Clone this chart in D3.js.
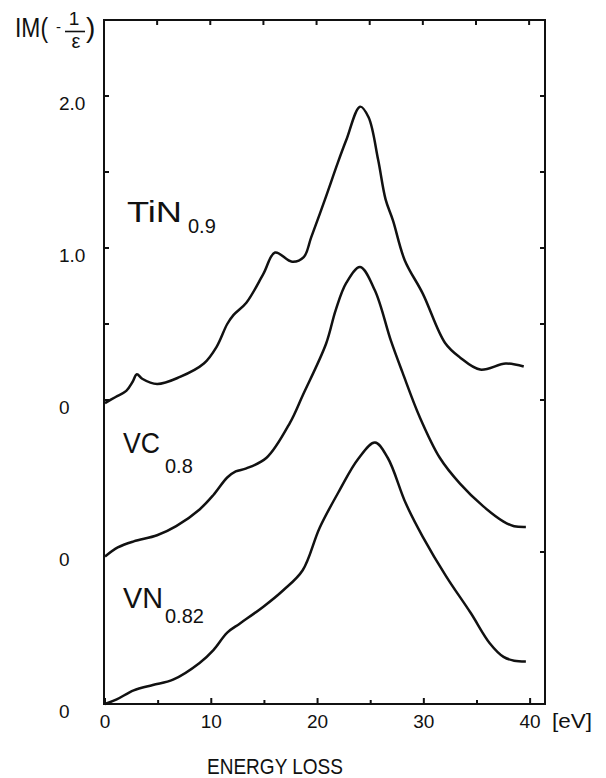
<!DOCTYPE html>
<html>
<head>
<meta charset="utf-8">
<script src="https://cdnjs.cloudflare.com/ajax/libs/d3/7.8.5/d3.min.js"></script>
<style>
  body { margin: 0; background: #fff; }
  text { font-family: "Liberation Sans", Arial, sans-serif; fill: #111; }
</style>
</head>
<body>
<script>
// energy loss (eV) and Im(-1/eps)
var tinE = [0, 1.0, 2.0, 2.6, 3.0, 3.5, 4.9, 7.0, 9.3, 10.5, 11.5, 12.1, 13.3, 14.9, 16.0, 17.6, 18.7, 19.4, 20.7, 21.9, 22.7, 24.0, 24.8, 25.7, 26.4, 27.1, 28.2, 29.9, 32.0, 33.4, 35.3, 37.7, 39.4];
var tinI = [-0.02, 0.02, 0.06, 0.12, 0.17, 0.14, 0.105, 0.15, 0.24, 0.35, 0.5, 0.56, 0.64, 0.83, 0.97, 0.91, 0.94, 1.07, 1.32, 1.56, 1.71, 1.93, 1.86, 1.58, 1.32, 1.18, 0.92, 0.70, 0.375, 0.28, 0.20, 0.24, 0.22];

var vcE = [0, 1.2, 2.7, 4.9, 6.7, 8.9, 10.2, 11.5, 12.3, 13.3, 15.2, 17.4, 18.6, 20.8, 21.7, 22.7, 24.0, 25.4, 26.9, 28.0, 29.6, 31.5, 33.4, 35.6, 37.5, 38.5, 39.6];
var vcI = [-0.03, 0.03, 0.07, 0.11, 0.17, 0.28, 0.375, 0.49, 0.53, 0.55, 0.62, 0.85, 1.03, 1.37, 1.59, 1.77, 1.875, 1.72, 1.39, 1.18, 0.89, 0.62, 0.45, 0.30, 0.20, 0.17, 0.165];

var vnE = [0, 1.1, 2.7, 4.5, 6.4, 8.9, 10.2, 11.5, 12.7, 14.9, 16.8, 18.6, 20.2, 22.1, 23.8, 25.4, 26.6, 28.3, 29.9, 32.1, 34.4, 36.2, 37.5, 38.5, 39.6];
var vnI = [0, 0.03, 0.09, 0.125, 0.16, 0.27, 0.355, 0.47, 0.53, 0.64, 0.75, 0.88, 1.16, 1.41, 1.61, 1.72, 1.62, 1.32, 1.10, 0.84, 0.60, 0.40, 0.31, 0.285, 0.28];

// each curve is shifted up by its own baseline
var names = ["TiN", "VC", "VN"];
var subs = ["0.9", "0.8", "0.82"];
var offsets = [2, 1, 0];

var xTicks = [0, 10, 20, 30, 40];
var yTickVals = [0, 1.0, 2.0];
var yTickLabels = ["0", "1.0", "2.0"];

//Width and height
var w = 606;
var h = 778;

var x = d3.scaleLinear().domain([0, 41.4]).range([105, 545]);
var y = d3.scaleLinear().domain([0, 4.5]).range([704, 20]);

var svg = d3.select("body")
      .append("svg")
      .attr("width", w)
      .attr("height", h);

svg.append("rect").attr("width", w).attr("height", h).attr("fill", "#fff");

//frame
svg.append("rect")
   .attr("x", x(0) - 1)
   .attr("y", y(4.5))
   .attr("width", x(41.4) - x(0) + 1)
   .attr("height", y(0) - y(4.5))
   .attr("fill", "none")
   .attr("stroke", "#111")
   .attr("stroke-width", 2);

//ticks on bottom and top
var minor = d3.range(0, 41, 5);
svg.selectAll(".bt")
   .data(minor)
   .enter()
   .append("line")
   .attr("x1", function(d) { return x(d); })
   .attr("x2", function(d) { return x(d); })
   .attr("y1", y(0))
   .attr("y2", function(d) { return y(0) - (d % 10 == 0 ? 6 : 4); })
   .attr("stroke", "#111")
   .attr("stroke-width", 2);

svg.selectAll(".tt")
   .data(minor.slice(1))
   .enter()
   .append("line")
   .attr("x1", function(d) { return x(d) - 1; })
   .attr("x2", function(d) { return x(d) - 1; })
   .attr("y1", y(4.5))
   .attr("y2", y(4.5) + 5)
   .attr("stroke", "#111")
   .attr("stroke-width", 2);

//ticks on left and right
var leftTicks = [2, 2.5, 3, 3.5, 4];
var rightTicks = [1, 2, 2.5, 3, 3.5, 4];
svg.selectAll(".lt")
   .data(leftTicks)
   .enter()
   .append("line")
   .attr("x1", x(0))
   .attr("x2", x(0) + 4)
   .attr("y1", function(d) { return y(d); })
   .attr("y2", function(d) { return y(d); })
   .attr("stroke", "#111")
   .attr("stroke-width", 2);

svg.selectAll(".rt")
   .data(rightTicks)
   .enter()
   .append("line")
   .attr("x1", x(41.4))
   .attr("x2", x(41.4) - 5)
   .attr("y1", function(d) { return y(d); })
   .attr("y2", function(d) { return y(d); })
   .attr("stroke", "#111")
   .attr("stroke-width", 2);

//x tick labels
svg.selectAll(".xl")
   .data(xTicks)
   .enter()
   .append("text")
   .attr("x", function(d) { return x(d); })
   .attr("y", 728)
   .attr("text-anchor", "middle")
   .style("font-size", "19px")
   .text(function(d) { return d; });

svg.append("text")
   .attr("x", 552).attr("y", 728)
   .attr("textLength", 40).attr("lengthAdjust", "spacingAndGlyphs")
   .style("font-size", "20px")
   .text("[eV]");

svg.append("text")
   .attr("x", 207).attr("y", 774)
   .attr("textLength", 136).attr("lengthAdjust", "spacingAndGlyphs")
   .style("font-size", "22px")
   .text("ENERGY LOSS");

//y tick labels: the TiN scale plus a zero for each shifted curve
var yLab = [];
yTickVals.forEach(function(v, i) { yLab.push({ v: offsets[0] + v, t: yTickLabels[i] }); });
yLab.push({ v: offsets[1], t: "0" });
yLab.push({ v: offsets[2], t: "0" });

svg.selectAll(".yl")
   .data(yLab)
   .enter()
   .append("text")
   .attr("x", 59)
   .attr("y", function(d) { return y(d.v) + 14; })
   .style("font-size", "19px")
   .text(function(d) { return d.t; });

//axis title IM(-1/eps)
svg.append("text").attr("x", 15).attr("y", 37)
   .attr("textLength", 33).attr("lengthAdjust", "spacingAndGlyphs")
   .style("font-size", "28px").text("IM(");
svg.append("text").attr("x", 56).attr("y", 32)
   .style("font-size", "15px").text("-");
svg.append("line").attr("x1", 65).attr("x2", 85).attr("y1", 31.5).attr("y2", 31.5)
   .attr("stroke", "#111").attr("stroke-width", 1.6);
svg.append("text").attr("x", 74).attr("y", 25).attr("text-anchor", "middle")
   .style("font-size", "19px").text("1");
svg.append("text").attr("x", 76).attr("y", 48).attr("text-anchor", "middle")
   .style("font-size", "20px").text("ε");
svg.append("text").attr("x", 86).attr("y", 37)
   .style("font-size", "28px").text(")");

//curves
var line = d3.line()
   .x(function(d) { return x(d[0]); })
   .y(function(d) { return y(d[1]); })
   .curve(d3.curveCatmullRom.alpha(0.5));

var series = [[tinE, tinI], [vcE, vcI], [vnE, vnI]];
series.forEach(function(s, i) {
  var pts = s[0].map(function(e, j) { return [e, s[1][j] + offsets[i]]; });
  svg.append("path")
     .attr("d", line(pts))
     .attr("fill", "none")
     .attr("stroke", "#111")
     .attr("stroke-width", 2.5)
     .attr("stroke-linejoin", "round");
});

//curve names with subscripts
var labPos = [[127, 222, 233, 188, 55], [123, 453, 473, 165, 37], [123, 608, 623, 165, 40]];
names.forEach(function(n, i) {
  var p = labPos[i];
  svg.append("text")
     .attr("x", p[0]).attr("y", p[1])
     .attr("textLength", p[4]).attr("lengthAdjust", "spacingAndGlyphs")
     .style("font-size", "30px")
     .text(n);
  svg.append("text")
     .attr("x", p[3]).attr("y", p[2])
     .style("font-size", "20px")
     .text(subs[i]);
});
</script>
</body>
</html>
